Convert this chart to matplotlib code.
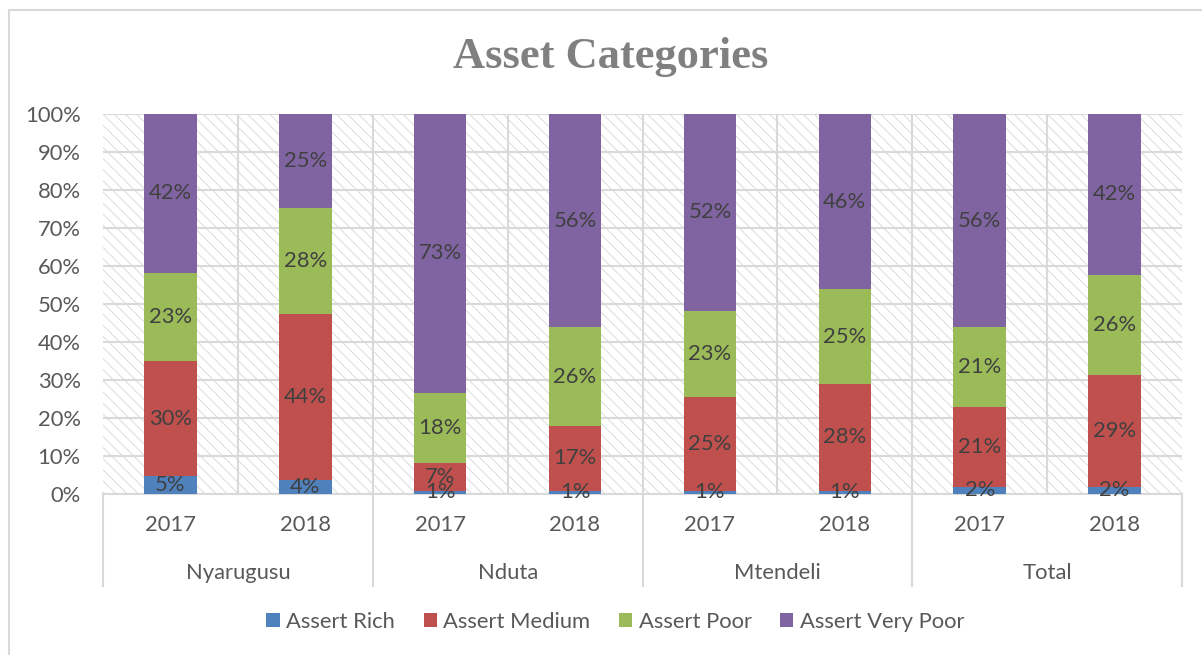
import matplotlib
matplotlib.use("Agg")
import matplotlib.pyplot as plt
from matplotlib.patches import Rectangle
from matplotlib.lines import Line2D
import numpy as np

groups = ["Nyarugusu", "Nduta", "Mtendeli", "Total"]
years = ["2017", "2018"]
series_names = ["Assert Rich", "Assert Medium", "Assert Poor", "Assert Very Poor"]
colors = ["#4f81bd", "#c0504d", "#9bbb59", "#8064a2"]

rich = [4.7, 3.7, 0.9, 0.8, 0.8, 0.9, 1.9, 1.9]
medium = [30.3, 43.7, 7.3, 17.1, 24.6, 28.0, 21.0, 29.4]
poor = [23.2, 27.9, 18.4, 26.0, 22.8, 25.0, 21.0, 26.4]
very_poor = [41.8, 24.7, 73.4, 56.1, 51.8, 46.1, 56.1, 42.3]

plt.rcParams['font.family'] = ['Lato', 'DejaVu Sans']
plt.rcParams['hatch.linewidth'] = 0.6
FS = 15.8
TXT = "#595959"

fig = plt.figure(figsize=(12.02, 6.55), dpi=100)
ax = fig.add_axes([103/1202, 1-494/655, (1182-103)/1202, (494-114)/655])

# outer chart frame
fig.add_artist(Rectangle((9/1202, -0.1), 1.2, 1-10/655+0.1, transform=fig.transFigure,
                         fill=False, edgecolor="#d9d9d9", lw=1.5))

# hatched plot background
ax.add_patch(Rectangle((0, 0), 1, 1, transform=ax.transAxes, facecolor="white",
                       edgecolor="#d6d6d6", hatch="\\\\\\", lw=0, zorder=0))

n = len(rich)
x = np.arange(n)
data = [rich, medium, poor, very_poor]
totals = np.sum(np.array(data), axis=0)
bottom = np.zeros(n)
for vals, col, name in zip(data, colors, series_names):
    v = np.array(vals) / totals * 100
    ax.bar(x, v, width=0.39, bottom=bottom, color=col, label=name, zorder=3)
    for xi, b, h, raw in zip(x, bottom, v, vals):
        ax.text(xi, b + h / 2, f"{round(raw):d}%", ha="center", va="center",
                fontsize=FS, color="#404040", zorder=4)
    bottom += v

ax.set_xlim(-0.5, n - 0.5)
ax.set_ylim(0, 100)
ax.set_yticks(np.arange(0, 101, 10))
ax.set_yticklabels([f"{t}%" for t in range(0, 101, 10)], fontsize=FS, color=TXT)
ax.tick_params(axis="y", length=0, pad=16)
ax.set_xticks([])
ax.yaxis.grid(True, color="#d9d9d9", lw=1.5, zorder=1)
for xv in np.arange(0.5, n - 0.5, 1):
    ax.axvline(xv, color="#d9d9d9", lw=1.5, zorder=1)
for s in ["left", "right", "top"]:
    ax.spines[s].set_visible(False)
ax.spines["bottom"].set_color("#d9d9d9")
ax.spines["bottom"].set_linewidth(1.5)
ax.spines["bottom"].set_zorder(2)
ax.set_axisbelow(True)

# two-level category labels
tr = ax.get_xaxis_transform()
for i in range(n):
    ax.text(i, -0.082, years[i % 2], transform=tr, ha="center", va="center",
            fontsize=FS, color=TXT)
for g, name in enumerate(groups):
    ax.text(2 * g + 0.5, -0.208, name, transform=tr, ha="center", va="center",
            fontsize=FS, color=TXT)
for xv in [-0.5, 1.5, 3.5, 5.5, 7.5]:
    ax.add_line(Line2D([xv, xv], [0, -0.242], transform=tr, color="#d9d9d9",
                       lw=1.5, clip_on=False))

fig.text(0.508, 1 - 57/655, "Asset Categories", ha="center", va="center",
         fontsize=32, fontweight="bold", color="#808080",
         family=["Liberation Serif", "DejaVu Serif"])

fig.legend(loc="center", bbox_to_anchor=(0.512, 1 - 622/655), ncol=4, frameon=False,
           fontsize=FS, handlelength=0.6, handleheight=0.6, handletextpad=0.3,
           columnspacing=1.3, labelcolor=TXT)

fig.savefig("out.png", dpi=100)
